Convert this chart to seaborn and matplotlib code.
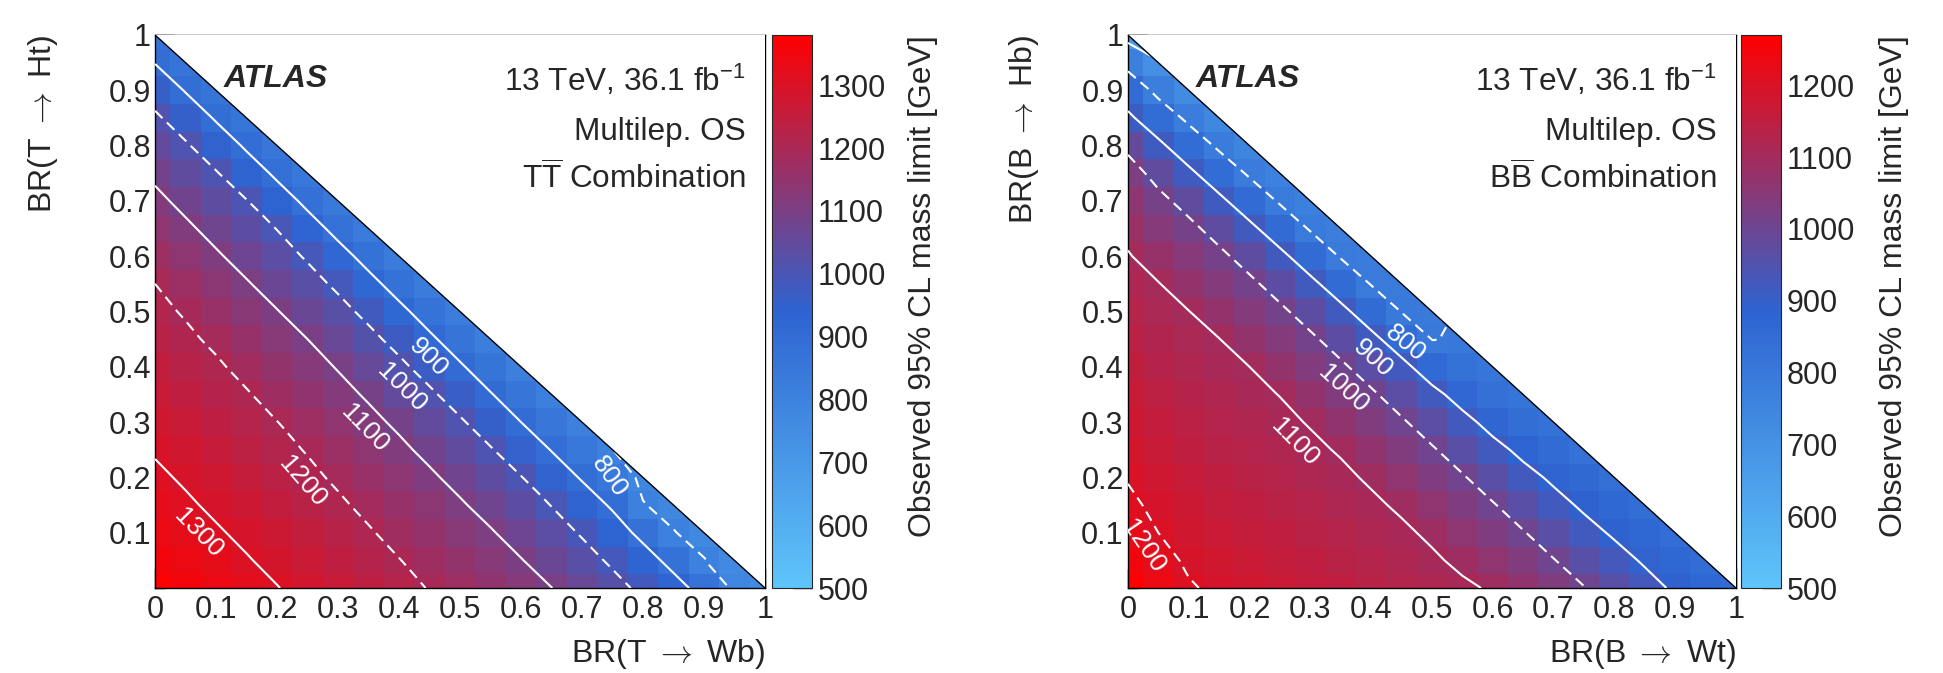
# atlas_br_limits.py
import numpy as np
import matplotlib
matplotlib.use("Agg")
import matplotlib.pyplot as plt
import matplotlib.tri as mtri
from matplotlib.colors import LinearSegmentedColormap
from matplotlib.patches import Polygon
import seaborn as sns

# ---------- 1. DATA (observed 95% CL mass limit in GeV) ----------
# one list per BR(->W) column x = 0, 0.05, ..., 1
# each list runs up in BR(->H) from 0 to 1 - x
tt_limits = [
    [1370, 1355, 1340, 1325, 1310, 1295, 1279, 1263, 1248, 1232, 1216, 1200, 1172, 1144, 1117, 1086, 1050, 1014, 960, 897, 870],
    [1355, 1339, 1324, 1308, 1293, 1277, 1261, 1244, 1228, 1212, 1194, 1167, 1140, 1113, 1081, 1046, 1010, 954, 895, 865],
    [1338, 1322, 1306, 1290, 1274, 1258, 1241, 1225, 1209, 1188, 1162, 1135, 1109, 1077, 1042, 1006, 948, 892, 861],
    [1321, 1304, 1288, 1271, 1255, 1238, 1221, 1205, 1182, 1157, 1131, 1106, 1073, 1038, 1003, 942, 889, 856],
    [1302, 1285, 1268, 1251, 1235, 1218, 1201, 1177, 1152, 1128, 1103, 1069, 1034, 998, 937, 886, 852],
    [1282, 1265, 1248, 1231, 1214, 1196, 1172, 1148, 1124, 1100, 1065, 1030, 991, 931, 883, 847],
    [1262, 1245, 1227, 1210, 1190, 1167, 1144, 1120, 1096, 1061, 1026, 985, 926, 879, 842],
    [1241, 1224, 1206, 1185, 1163, 1140, 1117, 1092, 1057, 1022, 979, 921, 876, 838],
    [1220, 1202, 1180, 1158, 1136, 1114, 1088, 1053, 1018, 973, 917, 872, 833],
    [1197, 1176, 1154, 1133, 1111, 1083, 1049, 1014, 967, 912, 869, 829],
    [1171, 1150, 1129, 1108, 1079, 1045, 1010, 962, 908, 865, 824],
    [1147, 1126, 1106, 1075, 1041, 1006, 957, 904, 861, 819],
    [1123, 1103, 1071, 1037, 1003, 952, 900, 858, 815],
    [1101, 1067, 1033, 998, 947, 897, 853, 810],
    [1063, 1029, 993, 943, 893, 850, 806],
    [1025, 988, 938, 890, 845, 801],
    [983, 934, 879, 803, 785],
    [930, 875, 803, 780],
    [871, 803, 775],
    [785, 770],
    [760],
]
bb_limits = [
    [1265, 1245, 1225, 1210, 1197, 1185, 1175, 1165, 1155, 1143, 1130, 1117, 1104, 1085, 1060, 1030, 985, 915, 855, 775, 670],
    [1235, 1218, 1200, 1189, 1178, 1167, 1156, 1145, 1134, 1124, 1113, 1102, 1076, 1047, 1018, 977, 917, 849, 779, 710],
    [1205, 1192, 1182, 1172, 1162, 1152, 1142, 1132, 1121, 1111, 1101, 1074, 1045, 1017, 976, 917, 850, 784, 730],
    [1190, 1180, 1170, 1160, 1150, 1140, 1130, 1120, 1110, 1101, 1073, 1044, 1015, 974, 918, 851, 787, 745],
    [1180, 1170, 1160, 1150, 1140, 1130, 1120, 1110, 1100, 1071, 1043, 1014, 973, 919, 852, 790, 755],
    [1170, 1160, 1150, 1140, 1130, 1120, 1110, 1099, 1070, 1042, 1013, 972, 920, 853, 792, 765],
    [1160, 1150, 1140, 1129, 1119, 1109, 1097, 1069, 1040, 1012, 971, 920, 854, 794, 772],
    [1150, 1140, 1129, 1119, 1109, 1096, 1067, 1039, 1011, 970, 921, 855, 795, 780],
    [1140, 1129, 1119, 1108, 1094, 1066, 1038, 1010, 969, 921, 856, 797, 786],
    [1128, 1118, 1108, 1093, 1065, 1037, 1008, 968, 922, 857, 798, 792],
    [1118, 1107, 1092, 1063, 1035, 1007, 967, 922, 858, 799, 797],
    [1108, 1090, 1062, 1034, 1006, 966, 923, 870, 825, 803],
    [1095, 1065, 1035, 1005, 965, 923, 875, 835, 810],
    [1068, 1036, 1004, 965, 924, 882, 845, 818],
    [1037, 1003, 964, 924, 888, 856, 825],
    [1003, 963, 924, 889, 861, 832],
    [965, 926, 891, 864, 838],
    [925, 892, 868, 843],
    [890, 868, 847],
    [865, 850],
    [852],
]
br_step = 0.05

tt_levels = [800, 900, 1000, 1100, 1200, 1300]
bb_levels = [700, 800, 900, 1000, 1100, 1200]
# (BR_W, BR_H) points on the contours that get a number (drawn just beside the line)
tt_label_pos = [(0.765, 0.215), (0.477, 0.449), (0.434, 0.395), (0.38, 0.328), (0.277, 0.225), (0.10, 0.13)]
bb_label_pos = [(0.475, 0.468), (0.428, 0.445), (0.377, 0.388), (0.30, 0.291), (0.062, 0.103)]

z_min = 500
tt_zmax, bb_zmax = 1380, 1270
tt_cbar_ticks = list(range(500, 1301, 100))
bb_cbar_ticks = list(range(500, 1201, 100))

tt_text = ["13 TeV, 36.1 fb$^{-1}$", "Multilep. OS", r"$\mathrm{T\overline{T}}$ Combination"]
bb_text = ["13 TeV, 36.1 fb$^{-1}$", "Multilep. OS", r"$\mathrm{B\overline{B}}$ Combination"]
tt_axis = (r"BR(T $\rightarrow$ Wb)", r"BR(T $\rightarrow$ Ht)")
bb_axis = (r"BR(B $\rightarrow$ Wt)", r"BR(B $\rightarrow$ Hb)")
z_title = "Observed 95% CL mass limit [GeV]"
br_ticks = [0, 0.1, 0.2, 0.3, 0.4, 0.5, 0.6, 0.7, 0.8, 0.9, 1]
br_tick_labels = ["0", "0.1", "0.2", "0.3", "0.4", "0.5", "0.6", "0.7", "0.8", "0.9", "1"]

# ---------- 2. STYLE ----------
sns.set_style("ticks")
plt.rcParams["font.family"] = ["Liberation Sans", "DejaVu Sans"]
plt.rcParams["mathtext.fontset"] = "custom"
plt.rcParams["mathtext.rm"] = "Liberation Sans"
plt.rcParams["mathtext.it"] = "Liberation Sans:italic"
plt.rcParams["mathtext.bf"] = "Liberation Sans:bold"

palette = LinearSegmentedColormap.from_list(
    "atlas_limit", [(0.0, (0.37, 0.77, 0.98)), (0.5, (0.18, 0.39, 0.82)), (1.0, (1.0, 0.0, 0.0))])
FS = 22


def draw_panel(ax, cax, cols, levels, label_pos, zmax, cbar_ticks, text_lines, axis_titles,
               ylab_x, zlab_x):
    n = len(cols)
    hx = lambda v: 0.5 + np.asarray(v) / br_step          # BR -> heatmap column coord
    hy = lambda v: n - 0.5 - np.asarray(v) / br_step      # BR -> heatmap row coord

    grid = np.full((n, n), np.nan)
    for i, col in enumerate(cols):
        for j, v in enumerate(col):
            grid[n - 1 - j, i] = v
    sns.heatmap(grid, ax=ax, cmap=palette, vmin=z_min, vmax=zmax, mask=np.isnan(grid),
                cbar_ax=cax, xticklabels=False, yticklabels=False)
    ax.set_xlim(hx(0), hx(1))
    ax.set_ylim(hy(0), hy(1))

    # white out everything above the BR sum = 1 diagonal
    ax.add_patch(Polygon([(hx(0), hy(1)), (hx(1), hy(1)), (hx(1), hy(0))],
                         closed=True, facecolor="white", edgecolor="none", zorder=3))
    ax.plot([hx(0), hx(1)], [hy(1), hy(0)], color="black", lw=1.0, zorder=5)

    # contours on the BR grid points
    px, py, pz, index = [], [], [], {}
    for i, col in enumerate(cols):
        for j, v in enumerate(col):
            index[(i, j)] = len(px)
            px.append(hx(i * br_step)); py.append(hy(j * br_step)); pz.append(v)
    tris = []
    for i in range(n - 1):
        for j in range(n - 1 - i):
            tris.append([index[(i, j)], index[(i + 1, j)], index[(i, j + 1)]])
            if i + j <= n - 3:
                tris.append([index[(i + 1, j)], index[(i + 1, j + 1)], index[(i, j + 1)]])
    tri = mtri.Triangulation(px, py, tris)
    styles = ["solid" if (lev // 100) % 2 else (0, (5, 3)) for lev in levels]
    cs = ax.tricontour(tri, pz, levels=levels, colors="white", linewidths=1.5,
                       linestyles=styles, zorder=4)
    texts = ax.clabel(cs, levels=levels, fmt="%d", fontsize=19, colors="white", inline=False,
                      manual=[(float(hx(bx)), float(hy(by))) for bx, by in label_pos])
    # ROOT puts the numbers beside the line, on the low-BR side
    for t in texts:
        th = np.deg2rad(t.get_rotation())
        nx, ny = np.sin(th), -np.cos(th)
        if nx + ny > 0:
            nx, ny = -nx, -ny
        x0, y0 = ax.transData.transform(t.get_position())
        t.set_position(ax.transData.inverted().transform((x0 + 20 * nx, y0 + 20 * ny)))
        t.set_zorder(6)

    # axes
    ax.set_xticks(hx(br_ticks))
    ax.set_xticklabels(br_tick_labels)
    ax.set_yticks(hy(br_ticks[1:]))
    ax.set_yticklabels(br_tick_labels[1:])
    minor = np.round(np.arange(0, 1.0001, 0.02), 2)
    ax.set_xticks(hx(minor), minor=True)
    ax.set_yticks(hy(minor), minor=True)
    ax.tick_params(which="both", direction="in", bottom=True, left=True, top=False, right=False,
                   labelsize=FS, width=1, color="black")
    ax.tick_params(which="major", length=14)
    ax.tick_params(which="minor", length=7)
    ax.tick_params(axis="x", which="major", pad=5)
    ax.tick_params(axis="y", which="major", pad=3)
    for sp in ax.spines.values():
        sp.set_visible(True)
        sp.set_linewidth(1)
        sp.set_color("black")
    ax.set_xlabel(axis_titles[0], fontsize=FS + 1, loc="right", math_fontfamily="cm")
    ax.xaxis.label.set_verticalalignment("bottom")
    ax.xaxis.set_label_coords(1.0, -0.150)
    ax.set_ylabel(axis_titles[1], fontsize=FS + 1, loc="top", math_fontfamily="cm")
    ax.yaxis.set_label_coords(ylab_x, 1.0)

    # labels
    ax.text(0.112, 0.906, "ATLAS", transform=ax.transAxes, fontsize=FS + 1, fontweight="bold",
            fontstyle="italic", va="baseline", zorder=6)
    for k, line in enumerate(text_lines):
        ax.text(0.968, 0.899 - 0.0883 * k, line, transform=ax.transAxes, fontsize=FS + 0.7,
                ha="right", va="baseline", zorder=6)

    # colour bar
    cbar = ax.collections[0].colorbar
    cbar.set_ticks(cbar_ticks)
    cbar.outline.set_linewidth(0.8)
    cax.tick_params(direction="in", length=14, width=1, labelsize=FS, pad=4,
                    right=True, left=False)
    cax.set_ylabel(z_title, fontsize=FS + 1, loc="top")
    cax.yaxis.set_label_position("right")
    cax.yaxis.set_label_coords(zlab_x, 1.0)


# ---------- 3. FIGURE ----------
fig = plt.figure(figsize=(19.43, 6.73), dpi=100)
ax_t = fig.add_axes([0.0798, 0.1263, 0.3139, 0.8217])
cax_t = fig.add_axes([0.3973, 0.1263, 0.0206, 0.8217])
ax_b = fig.add_axes([0.5805, 0.1263, 0.3129, 0.8217])
cax_b = fig.add_axes([0.8960, 0.1263, 0.0206, 0.8217])

draw_panel(ax_t, cax_t, tt_limits, tt_levels, tt_label_pos, tt_zmax, tt_cbar_ticks,
           tt_text, tt_axis, -0.156, 3.4)
draw_panel(ax_b, cax_b, bb_limits, bb_levels, bb_label_pos, bb_zmax, bb_cbar_ticks,
           bb_text, bb_axis, -0.143, 3.45)

fig.savefig("out.png", dpi=100)
